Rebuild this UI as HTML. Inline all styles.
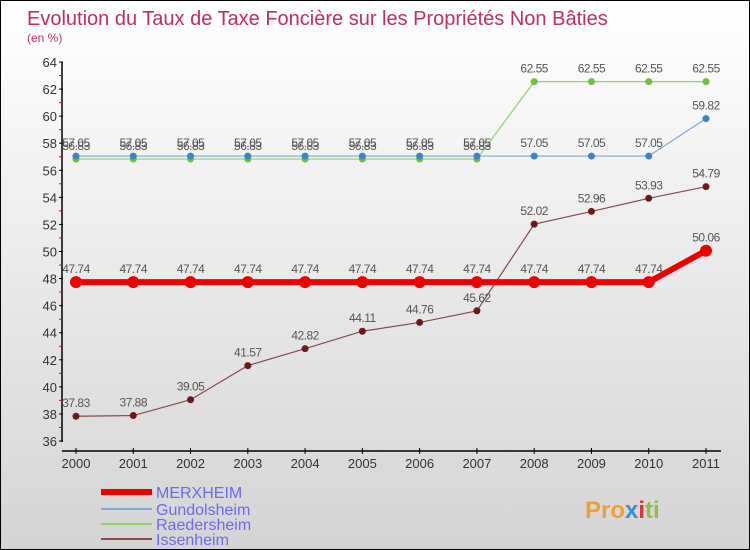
<!DOCTYPE html>
<html><head><meta charset="utf-8"><style>
body{margin:0}
#c{width:750px;height:550px;position:relative;overflow:hidden;box-sizing:border-box;border:1px solid #000;background:linear-gradient(#fff,#d4d4d4);font-family:"Liberation Sans",sans-serif}
</style></head><body>
<div id="c">
<svg id="s" width="750" height="550" style="position:absolute;left:0;top:0"></svg>
</div>
<script>
const years=["2000","2001","2002","2003","2004","2005","2006","2007","2008","2009","2010","2011"];
const merxheim=[47.74,47.74,47.74,47.74,47.74,47.74,47.74,47.74,47.74,47.74,47.74,50.06];
const gundolsheim=[57.05,57.05,57.05,57.05,57.05,57.05,57.05,57.05,57.05,57.05,57.05,59.82];
const raedersheim=[56.83,56.83,56.83,56.83,56.83,56.83,56.83,56.83,62.55,62.55,62.55,62.55];
const issenheim=[37.83,37.88,39.05,41.57,42.82,44.11,44.76,45.62,52.02,52.96,53.93,54.79];
const yTicks=[36,38,40,42,44,46,48,50,52,54,56,58,60,62,64];
const ns="http://www.w3.org/2000/svg",s=document.getElementById('s');
function X(i){return 75+i*(630/11);}
function Y(v){return 440-(v-36)*(379/28);}
function el(t,a,txt){const e=document.createElementNS(ns,t);for(const k in a)e.setAttribute(k,a[k]);if(txt!==undefined)e.textContent=txt;s.appendChild(e);return e;}
let e;
e=el('text',{x:26,y:24,'font-size':20,fill:'#c0305a'},"Evolution du Taux de Taxe Foncière sur les Propriétés Non Bâties");

e=el('text',{x:26,y:41,'font-size':12,fill:'#c0305a'},"(en %)");

e=el('line',{x1:61,y1:61,x2:61,y2:441,stroke:'#000','stroke-width':1.5});

e=el('line',{x1:61,y1:450,x2:720,y2:450,stroke:'#000','stroke-width':1.5});

yTicks.forEach(v=>{
 el('line',{x1:58,y1:Y(v),x2:62,y2:Y(v),stroke:'#000'});
 if(v<64) el('line',{x1:58,y1:Y(v+1),x2:61,y2:Y(v+1),stroke:'#e00'});
 e=el('text',{x:56,y:Y(v)+5,'font-size':13,fill:'#333','text-anchor':'end'},v);
 
});
years.forEach((y,i)=>{
 el('line',{x1:X(i),y1:447,x2:X(i),y2:453,stroke:'#000'});
 e=el('text',{x:X(i),y:467,'font-size':13,fill:'#333','text-anchor':'middle'},y);
 
});
function series(d,col,w,r,name,dot){
 e=el('polyline',{points:d.map((v,i)=>X(i)+','+Y(v)).join(' '),fill:'none',stroke:col,'stroke-width':w});
 
 d.forEach((v,i)=>{
  e=el('circle',{cx:X(i),cy:Y(v),r:r,fill:dot});
  
  e=el('text',{x:X(i),y:Y(v)-9,'font-size':12,fill:'#555','text-anchor':'middle','letter-spacing':'-0.5'},String(v));
  
 });
}
series(issenheim,'#8b4a4a',1.2,3.5,'issenheim','#6a1a1a');
series(raedersheim,'#8fd16a',1.2,3.5,'raedersheim','#6cc23a');
series(gundolsheim,'#7aa9d6',1.2,3.5,'gundolsheim','#3d84c6');
series(merxheim,'#ee0000',6,6,'merxheim','#ee0000');
const leg=[["MERXHEIM","#ee0000",6,491],["Gundolsheim","#7aa9d6",2,508],["Raedersheim","#8fd16a",2,523],["Issenheim","#8b4a4a",2,538]];
leg.forEach(l=>{
 e=el('line',{x1:100,y1:l[3],x2:151,y2:l[3],stroke:l[1],'stroke-width':l[2]});
 
 e=el('text',{x:155,y:l[3]+6,'font-size':16,fill:'#6a6af0'},l[0]);
 
});
e=el('text',{x:584,y:517,'font-size':24,'font-weight':'bold'});

e.innerHTML='<tspan fill="#f0a030">Pro</tspan><tspan fill="#3a8fd6">x</tspan><tspan fill="#e03030">i</tspan><tspan fill="#90c040">ti</tspan>';
</script>
</body></html>
